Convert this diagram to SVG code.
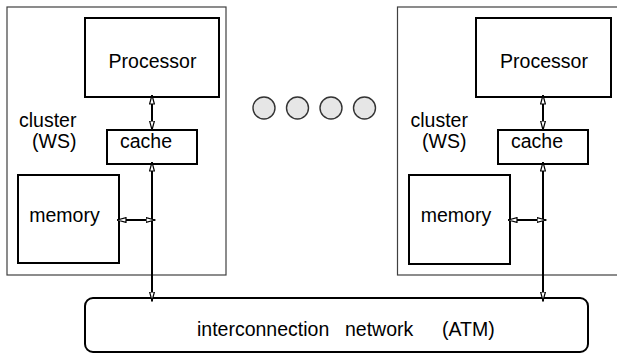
<svg xmlns="http://www.w3.org/2000/svg" width="617" height="353" viewBox="0 0 617 353">
<style>
.outer{fill:none;stroke:#404040;stroke-width:1.2}
.box{fill:#fff;stroke:#000;stroke-width:2}
.t{font-family:"Liberation Sans",Arial,sans-serif;font-size:19.5px;fill:#000}
.c{text-anchor:middle}
.link{fill:none;stroke:#000;stroke-width:2;marker-start:url(#ah);marker-end:url(#ah)}
.dot{fill:#e6e6e6;stroke:#333;stroke-width:1.4}
</style>
<defs>
<marker id="ah" viewBox="0 0 10 6" refX="9.5" refY="3" markerUnits="userSpaceOnUse" markerWidth="10" markerHeight="6" orient="auto-start-reverse">
<path d="M0.5,0.6 L9.5,3 L0.5,5.4 Z" fill="#fff" stroke="#000" stroke-width="1.2"/>
</marker>
</defs>
<rect width="617" height="353" fill="#fff"/>
<g id="cluster-left">
<rect class="outer" x="7" y="7" width="219" height="268"/>
<text class="t" x="19" y="127">cluster</text>
<text class="t" x="32" y="148">(WS)</text>
</g>
<g id="processor-left">
<rect class="box" x="85" y="18" width="134" height="79"/>
<text class="t c" x="152.5" y="68">Processor</text>
</g>
<g id="cache-left">
<rect class="box" x="107" y="130" width="90" height="34"/>
<text class="t c" x="146" y="148">cache</text>
</g>
<g id="memory-left">
<rect class="box" x="18" y="175" width="101" height="88"/>
<text class="t c" x="64.5" y="222">memory</text>
</g>
<g id="cluster-right">
<rect class="outer" x="397.5" y="7" width="225" height="268"/>
<text class="t" x="410.5" y="127">cluster</text>
<text class="t" x="422" y="148">(WS)</text>
</g>
<g id="processor-right">
<rect class="box" x="476" y="18" width="135" height="79"/>
<text class="t c" x="544" y="68">Processor</text>
</g>
<g id="cache-right">
<rect class="box" x="498" y="130" width="90" height="34"/>
<text class="t c" x="537" y="148">cache</text>
</g>
<g id="memory-right">
<rect class="box" x="409" y="175" width="101" height="89"/>
<text class="t c" x="456" y="222">memory</text>
</g>
<g id="ellipsis">
<circle class="dot" cx="264" cy="108" r="11"/>
<circle class="dot" cx="297.5" cy="108" r="11"/>
<circle class="dot" cx="331" cy="108" r="11"/>
<circle class="dot" cx="364.5" cy="108" r="11"/>
</g>
<g id="network">
<rect class="box" x="85" y="298" width="503" height="54" rx="8"/>
<text class="t" x="197" y="336">interconnection</text>
<text class="t" x="345" y="336">network</text>
<text class="t" x="442" y="336">(ATM)</text>
</g>
<g id="connectors">
<path class="link" d="M152,95 L152,130"/>
<path class="link" d="M152,162 L152,301"/>
<path class="link" d="M117,220 L155,220"/>
<path class="link" d="M543,95 L543,130"/>
<path class="link" d="M543,162 L543,301"/>
<path class="link" d="M508,220 L546,220"/>
</g>
</svg>
